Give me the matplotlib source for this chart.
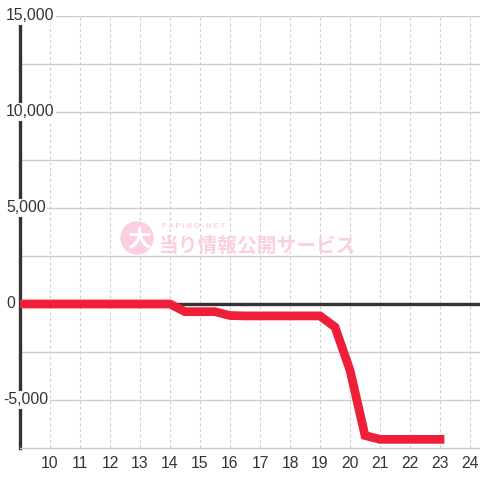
import matplotlib
matplotlib.use("Agg")
import matplotlib.pyplot as plt
import matplotlib.transforms as mtransforms
from matplotlib.patches import Circle

# hour of day vs. balance
hours = [9, 9.5, 10, 10.5, 11, 11.5, 12, 12.5, 13, 13.5, 14, 14.5, 15, 15.5,
         16, 16.5, 17, 17.5, 18, 18.5, 19, 19.5, 20, 20.5, 21, 21.5, 22, 22.5, 23]
balance = [0, 0, 0, 0, 0, 0, 0, 0, 0, 0, 0, -400, -400, -400,
           -600, -620, -620, -620, -620, -620, -620, -1200, -3450, -6850, -7050,
           -7050, -7050, -7050, -7050]

x_ticks = list(range(10, 25))
y_labels = [15000, 10000, 5000, 0, -5000]

W = H = 480
plt.rcParams['font.family'] = ['Liberation Sans', 'DejaVu Sans']
fig = plt.figure(figsize=(4.8, 4.8), dpi=100)
ax = fig.add_axes([20 / W, 32 / H, 460 / W, 432 / H])

txt = "#333333"
grid = "#cccccc"

ax.set_xlim(9, 9 + 460 / 30)
ax.set_ylim(-7500, 15000)

# grid
for v in range(-5000, 15001, 2500):
    ax.axhline(v, color=grid, lw=1, zorder=1)
for h in x_ticks:
    ax.axvline(h, color=grid, lw=0.8, ls=(0, (2.5, 2.5)), zorder=1)
ax.axhline(0, color="#333333", lw=2.4, zorder=2)

for s in ["top", "right"]:
    ax.spines[s].set_visible(False)
ax.spines["bottom"].set_color(grid)
ax.spines["bottom"].set_linewidth(1)
ax.spines["left"].set_color("#333333")
ax.spines["left"].set_linewidth(2.4)
ax.spines["left"].set_bounds(-7500, 14600)

ax.set_yticks([])
ax.set_xticks(x_ticks)
ax.set_xticklabels([str(t) for t in x_ticks], fontsize=11.3, color=txt)
ax.tick_params(axis="x", length=0, pad=6)

# watermark
pink = "#fbcfe1"
fig.patches.append(Circle((137 / W, 1 - 238 / H), 16 / W, transform=fig.transFigure,
                          color=pink, zorder=0))
fig.text(139 / W, 1 - 240 / H, "大", fontsize=17, color="white", weight="bold",
         family=["Noto Sans CJK JP"], ha="center", va="center", zorder=1)
fig.text(162 / W, 1 - 227 / H, "P A P I M O - N E T", fontsize=5.2, color=pink,
         weight="bold", ha="left", va="center")
fig.text(159 / W, 1 - 246 / H, "当り情報公開サービス", fontsize=14.2, color=pink,
         weight="bold", family=["Noto Sans CJK JP"], ha="left", va="center")

ax.plot(hours, balance, color="#ee1f36", lw=6.3, solid_joinstyle="miter",
        solid_capstyle="projecting", zorder=4)

# y labels sit over the spine with a white box
tr = mtransforms.blended_transform_factory(fig.transFigure, ax.transData)
for v in y_labels:
    x0 = 3 if v < 0 else 6
    ax.text(x0 / W, v, f"{v:,}", transform=tr, ha="left", va="center",
            fontsize=11.3, color=txt, clip_on=False, zorder=5,
            bbox=dict(facecolor="white", edgecolor="none", pad=1.2))

fig.savefig("out.png", dpi=100)
